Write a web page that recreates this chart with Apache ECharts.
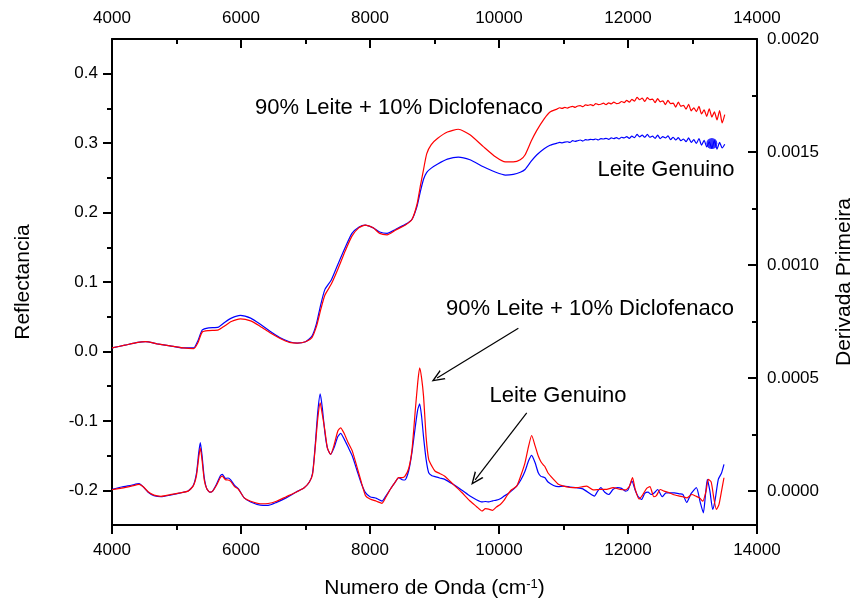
<!DOCTYPE html>
<html>
<head>
<meta charset="utf-8">
<script src="https://cdn.jsdelivr.net/npm/echarts@6/dist/echarts.min.js"></script>
<style>
  html, body { margin: 0; padding: 0; background: #fff; }
  #chart { width: 854px; height: 605px; }
</style>
</head>
<body>
<div id="chart"></div>
<script>
// NIR reflectance spectra (left axis) and their first derivative (right axis)
// for genuine milk and milk adulterated with 10% diclofenac.

// ---- Reflectance, smooth region ----
const refWavenumbers = [4000,4200,4400,4520,4700,4900,5100,5266,5330,5400,5500,5650,5750,5850,5990,6150,6300,6450,6600,6750,6870,7000,7100,7170,7230,7300,7400,7500,7617,7720,7825,7927,8050,8150,8264,8400,8548,8650,8729,8780,8830,8880,8950,9050,9200,9369,9550,9757,9950,10100,10222,10330,10403,10500,10584,10700,10791];
const refGenuino = [0.005,0.009,0.013,0.014,0.011,0.008,0.005,0.005,0.015,0.031,0.034,0.035,0.042,0.048,0.052,0.048,0.039,0.029,0.020,0.014,0.012,0.014,0.022,0.040,0.065,0.089,0.103,0.125,0.150,0.170,0.179,0.182,0.178,0.172,0.170,0.176,0.183,0.190,0.209,0.230,0.248,0.258,0.264,0.270,0.277,0.280,0.276,0.266,0.258,0.254,0.255,0.258,0.262,0.274,0.283,0.292,0.297];
const refDiclofenaco = [0.005,0.009,0.013,0.014,0.011,0.008,0.005,0.004,0.012,0.028,0.030,0.031,0.037,0.043,0.047,0.044,0.036,0.027,0.019,0.013,0.012,0.014,0.020,0.036,0.058,0.081,0.097,0.118,0.145,0.166,0.178,0.182,0.178,0.170,0.168,0.175,0.182,0.190,0.212,0.238,0.262,0.285,0.298,0.307,0.316,0.320,0.312,0.295,0.280,0.273,0.273,0.276,0.283,0.303,0.318,0.335,0.345];

// ---- Reflectance, noisy high-wavenumber region ----
const refTailWavenumbers = [10900,10940,10980,11020,11060,11100,11140,11180,11220,11260,11300,11340,11380,11420,11460,11500,11540,11580,11620,11660,11700,11740,11780,11820,11860,11900,11940,11980,12020,12060,12100,12140,12180,12220,12260,12300,12340,12380,12420,12460,12500,12540,12580,12620,12660,12700,12740,12780,12820,12860,12900,12940,12980,13020,13060,13100,13140,13180,13220,13260,13300,13340,13380,13420,13460,13500];
const refTailGenuino = [0.300,0.301,0.3005,0.3015,0.302,0.301,0.3035,0.3025,0.3035,0.3045,0.303,0.305,0.3045,0.3055,0.305,0.306,0.3045,0.3065,0.306,0.307,0.3055,0.3075,0.3065,0.308,0.306,0.3085,0.3075,0.3095,0.307,0.310,0.308,0.3125,0.309,0.3115,0.3085,0.3125,0.3085,0.310,0.307,0.3115,0.3065,0.3095,0.3075,0.3105,0.305,0.3085,0.3045,0.308,0.3035,0.306,0.302,0.3075,0.301,0.305,0.2995,0.3065,0.297,0.304,0.2945,0.302,0.2925,0.3035,0.2915,0.301,0.293,0.2985];
const refTailDiclofenaco = [0.349,0.351,0.350,0.3515,0.3505,0.352,0.353,0.3515,0.3535,0.354,0.3525,0.355,0.3545,0.3555,0.354,0.357,0.3555,0.356,0.3575,0.3555,0.358,0.3565,0.359,0.357,0.3575,0.360,0.3585,0.3615,0.359,0.363,0.3605,0.366,0.3625,0.365,0.360,0.3655,0.3625,0.3635,0.3585,0.364,0.3595,0.361,0.3555,0.3615,0.357,0.3575,0.352,0.359,0.353,0.3545,0.349,0.356,0.3465,0.351,0.3455,0.353,0.342,0.348,0.3385,0.3495,0.3375,0.345,0.3335,0.347,0.329,0.341];

// Dense spot on the genuine-milk curve near 13300 cm-1
const genuinoSpot = [[13300, 0.2995]];

// ---- First derivative (listed in units of 1e-5) ----
const DERIV_UNIT = 1e-5;
const derivWavenumbers = [4000,4150,4300,4420,4480,4560,4650,4760,4900,5050,5180,5260,5310,5345,5369,5395,5430,5470,5520,5560,5620,5680,5710,5760,5800,5840,5900,5960,6050,6150,6300,6420,6550,6700,6850,6980,7060,7110,7150,7190,7228,7260,7300,7340,7389,7440,7500,7544,7600,7660,7726,7800,7870,7930,8000,8100,8186,8250,8315,8380,8444,8500,8540,8600,8650,8700,8740,8770,8800,8830,8870,8910,8960,9010,9080,9160,9290,9420,9550,9650,9735,9790,9840,9900,9960,10020,10080,10119,10190,10274,10340,10403,10460,10506,10560,10609,10650,10690,10713,10760,10846,10920,11000,11100];
const derivGenuino = [0.8,1.8,2.6,3.3,2.0,-0.5,-2.0,-2.5,-1.8,-0.9,0.0,2.5,8,17,21.4,16,6,1.0,-0.5,0.0,3.0,6.8,7.4,5.6,5.8,5.0,2.5,1.0,-3.0,-4.8,-6.2,-6.3,-5.0,-3.0,-0.5,1.5,4.0,8.0,20,35,43,37,26,19,16.2,19,24,25.5,23,19.5,15.5,9,3.0,-0.7,-2.5,-3.2,-4.4,-2.0,0.8,3.5,5.9,5.0,4.9,9,17,28,36,38.6,33,24,14,8.1,6.8,6.4,5.8,5.2,3.0,0.5,-2.2,-3.8,-4.8,-4.6,-4.8,-4.3,-4.0,-3.4,-2.2,-1.5,0.0,2.2,5.0,8.8,13.5,15.8,12.5,8.1,6.5,6.2,5.9,4.0,2.5,2.0,2.2,1.8];
const derivDiclofenaco = [0.6,1.3,2.2,3.0,2.0,-0.3,-1.8,-2.3,-1.6,-0.8,0.0,2.3,7,15,19.1,14,5,1.0,-0.5,0.0,2.6,6.0,6.6,5.0,4.9,4.3,2.0,0.8,-3.0,-4.5,-5.6,-5.5,-4.5,-2.5,-0.5,1.5,4.0,7.5,19,32,39,34,27,19,16.2,20,26.5,28,25.5,21.5,17.7,10.5,3.5,-2.0,-3.5,-4.5,-5.4,-2.5,0.8,3.5,6.0,6.0,6.5,10,18,35,48,54.5,50,42,24,14,11,8.8,7.8,6.6,3.0,-0.5,-4.4,-6.8,-8.8,-7.8,-8.0,-8.5,-7.0,-5.9,-4.0,-2.2,0.5,2.2,7.0,12.5,20,24.6,20,15.5,13.0,11.5,10.8,8.0,5.2,3.0,2.2,1.6];

const derivTailWnGenuino = [11205,11300,11430,11480,11530,11580,11640,11700,11770,11840,11900,11960,12000,12060,12110,12160,12210,12260,12310,12360,12410,12460,12530,12590,12650,12720,12800,12850,12910,12980,13060,13120,13168,13200,13230,13270,13313,13350,13400,13450,13488];
const derivTailGenuino = [1.5,1.0,-1.5,-2.2,0.0,1.5,-0.5,-1.5,0.8,1.5,1.2,0.0,0.5,4.5,0.5,-2.5,-3.7,-1.0,-0.5,-1.5,-0.7,0.7,-2.5,-0.8,-0.8,-0.8,-1.2,-1.5,-5.0,-1.0,1.5,-5.0,-9.6,-2.0,5.2,0.0,-8.1,-4.0,5.2,8.0,11.8];
const derivTailWnDiclofenaco = [11205,11300,11360,11460,11560,11670,11770,11880,11960,12020,12070,12110,12170,12220,12290,12340,12400,12440,12500,12560,12620,12700,12800,12850,12910,12990,13050,13110,13160,13210,13245,13290,13330,13370,13410,13450,13488];
const derivTailDiclofenaco = [1.5,2.0,2.2,0.5,0.7,0.8,1.5,0.7,0.5,2.0,6.0,1.0,-3.5,-2.0,1.2,2.0,-2.5,-2.0,0.7,0.0,-0.5,-1.5,-2.2,-2.5,-3.0,-1.5,-2.2,-3.0,-4.5,0.0,5.2,4.0,-3.0,-8.1,-6.0,0.0,5.9];

// ---- Axis tick values ----
const reflMajorTicks = [-0.2, -0.1, 0.0, 0.1, 0.2, 0.3, 0.4];
const reflMinorTicks = [-0.15, -0.05, 0.05, 0.15, 0.25, 0.35];
const derivMajorTicks = [0.0, 0.0005, 0.0010, 0.0015, 0.0020];
const derivMinorTicks = [0.00025, 0.00075, 0.00125, 0.00175];

// ---- Build series data ----
function pairs(xs, ys, scale) {
  const k = scale || 1;
  return xs.map((x, i) => [x, ys[i] * k]);
}
const reflGenuinoData = pairs(refWavenumbers, refGenuino).concat(pairs(refTailWavenumbers, refTailGenuino));
const reflDicloData = pairs(refWavenumbers, refDiclofenaco).concat(pairs(refTailWavenumbers, refTailDiclofenaco));
const derivGenuinoData = pairs(derivWavenumbers, derivGenuino, DERIV_UNIT).concat(pairs(derivTailWnGenuino, derivTailGenuino, DERIV_UNIT));
const derivDicloData = pairs(derivWavenumbers, derivDiclofenaco, DERIV_UNIT).concat(pairs(derivTailWnDiclofenaco, derivTailDiclofenaco, DERIV_UNIT));

const FONT = '"Liberation Sans", Arial, Helvetica, sans-serif';
const RED = '#ff0000';
const BLUE = '#0000ff';
const BLACK = '#000000';

const axisLineStyle = { show: true, onZero: false, lineStyle: { color: BLACK, width: 2 } };
const tickLine = { color: BLACK, width: 2 };

function xAxisDef(position, inside, labelMargin, extra) {
  return Object.assign({
    type: 'value', position: position, min: 4000, max: 14000, interval: 2000,
    axisLine: axisLineStyle,
    axisTick: { show: true, inside: inside, length: 9, lineStyle: tickLine },
    minorTick: { show: true, splitNumber: 2, length: 5, lineStyle: tickLine },
    axisLabel: { show: true, fontSize: 17, color: BLACK, fontFamily: FONT, margin: labelMargin,
                 formatter: v => String(v) },
    splitLine: { show: false }, minorSplitLine: { show: false }
  }, extra || {});
}

const arrowHead = 'path://M0,12 L5,0 L10,12 L8.6,12 L5,3.2 L1.4,12 Z';
const annotationFont = '22px ' + FONT;

function annotation(text, x, y) {
  return {
    type: 'text', x: x, y: y, silent: true,
    style: { text: text, font: annotationFont, fill: BLACK,
             textAlign: 'center', textVerticalAlign: 'middle', align: 'center', verticalAlign: 'middle' }
  };
}

const option = {
  animation: false,
  backgroundColor: '#ffffff',
  grid: { left: 112, right: 97, top: 39, bottom: 80, containLabel: false, outerBoundsMode: 'none' },
  xAxis: [
    xAxisDef('bottom', false, 17, {
      name: 'Numero de Onda (cm{sup|-1})',
      nameLocation: 'middle', nameGap: 53,
      nameTextStyle: {
        fontSize: 21, color: BLACK, fontFamily: FONT,
        rich: { sup: { fontSize: 13, color: BLACK, fontFamily: FONT, verticalAlign: 'top', lineHeight: 12, padding: [0, 0, 10, 0] } }
      }
    }),
    xAxisDef('top', true, 12)
  ],
  yAxis: [
    {
      type: 'value', position: 'left', min: -0.25, max: 0.45,
      axisLine: axisLineStyle,
      axisTick: { show: true, inside: false, length: 9, lineStyle: tickLine, customValues: reflMajorTicks },
      axisLabel: { show: true, fontSize: 17, color: BLACK, fontFamily: FONT, margin: 14,
                   customValues: reflMajorTicks, formatter: v => v.toFixed(1) },
      splitLine: { show: false },
      name: 'Reflectancia', nameLocation: 'middle', nameGap: 78, nameRotate: 90,
      nameTextStyle: { fontSize: 21, color: BLACK, fontFamily: FONT }
    },
    {
      type: 'value', position: 'left', min: -0.25, max: 0.45,
      axisLine: { show: false },
      axisTick: { show: true, inside: false, length: 5, lineStyle: tickLine, customValues: reflMinorTicks },
      axisLabel: { show: false },
      splitLine: { show: false }
    },
    {
      type: 'value', position: 'right', min: -0.00015, max: 0.002,
      axisLine: axisLineStyle,
      axisTick: { show: true, inside: true, length: 9, lineStyle: tickLine, customValues: derivMajorTicks },
      axisLabel: { show: true, fontSize: 17, color: BLACK, fontFamily: FONT, margin: 10,
                   customValues: derivMajorTicks, formatter: v => v.toFixed(4) },
      splitLine: { show: false },
      name: 'Derivada Primeira', nameLocation: 'middle', nameGap: 77, nameRotate: 90,
      nameTextStyle: { fontSize: 21, color: BLACK, fontFamily: FONT }
    },
    {
      type: 'value', position: 'right', min: -0.00015, max: 0.002,
      axisLine: { show: false },
      axisTick: { show: true, inside: true, length: 5, lineStyle: tickLine, customValues: derivMinorTicks },
      axisLabel: { show: false },
      splitLine: { show: false }
    }
  ],
  series: [
    {
      name: 'Leite Genuino', type: 'line', xAxisIndex: 0, yAxisIndex: 0,
      data: reflGenuinoData, showSymbol: false, smooth: 0.2,
      lineStyle: { color: BLUE, width: 1.2 }, itemStyle: { color: BLUE }
    },
    {
      name: '90% Leite + 10% Diclofenaco', type: 'line', xAxisIndex: 0, yAxisIndex: 0,
      data: reflDicloData, showSymbol: false, smooth: 0.2,
      lineStyle: { color: RED, width: 1.2 }, itemStyle: { color: RED }
    },
    {
      name: 'Leite Genuino spot', type: 'scatter', xAxisIndex: 0, yAxisIndex: 0,
      data: genuinoSpot, symbolSize: 11, itemStyle: { color: BLUE }, silent: true
    },
    {
      name: 'Leite Genuino (derivada)', type: 'line', xAxisIndex: 0, yAxisIndex: 2,
      data: derivGenuinoData, showSymbol: false, smooth: 0.2,
      lineStyle: { color: BLUE, width: 1.2 }, itemStyle: { color: BLUE }
    },
    {
      name: '90% Leite + 10% Diclofenaco (derivada)', type: 'line', xAxisIndex: 0, yAxisIndex: 2,
      data: derivDicloData, showSymbol: false, smooth: 0.2,
      lineStyle: { color: RED, width: 1.2 }, itemStyle: { color: RED },
      markLine: {
        silent: true, animation: false,
        symbol: ['none', arrowHead], symbolSize: [11, 13],
        label: { show: false },
        lineStyle: { color: BLACK, width: 1.2, type: 'solid' },
        emphasis: { disabled: true },
        data: [
          [{ coord: [10300, 0.00072] }, { coord: [9040, 0.00050] }],
          [{ coord: [10430, 0.000346] }, { coord: [9630, 0.00005] }]
        ]
      }
    }
  ],
  graphic: [
    annotation('90% Leite + 10% Diclofenaco', 399, 108),
    annotation('Leite Genuino', 666, 170),
    annotation('90% Leite + 10% Diclofenaco', 590, 309),
    annotation('Leite Genuino', 558, 396)
  ]
};

const chart = echarts.init(document.getElementById('chart'), null, { renderer: 'canvas' });
chart.setOption(option);
</script>
</body>
</html>
